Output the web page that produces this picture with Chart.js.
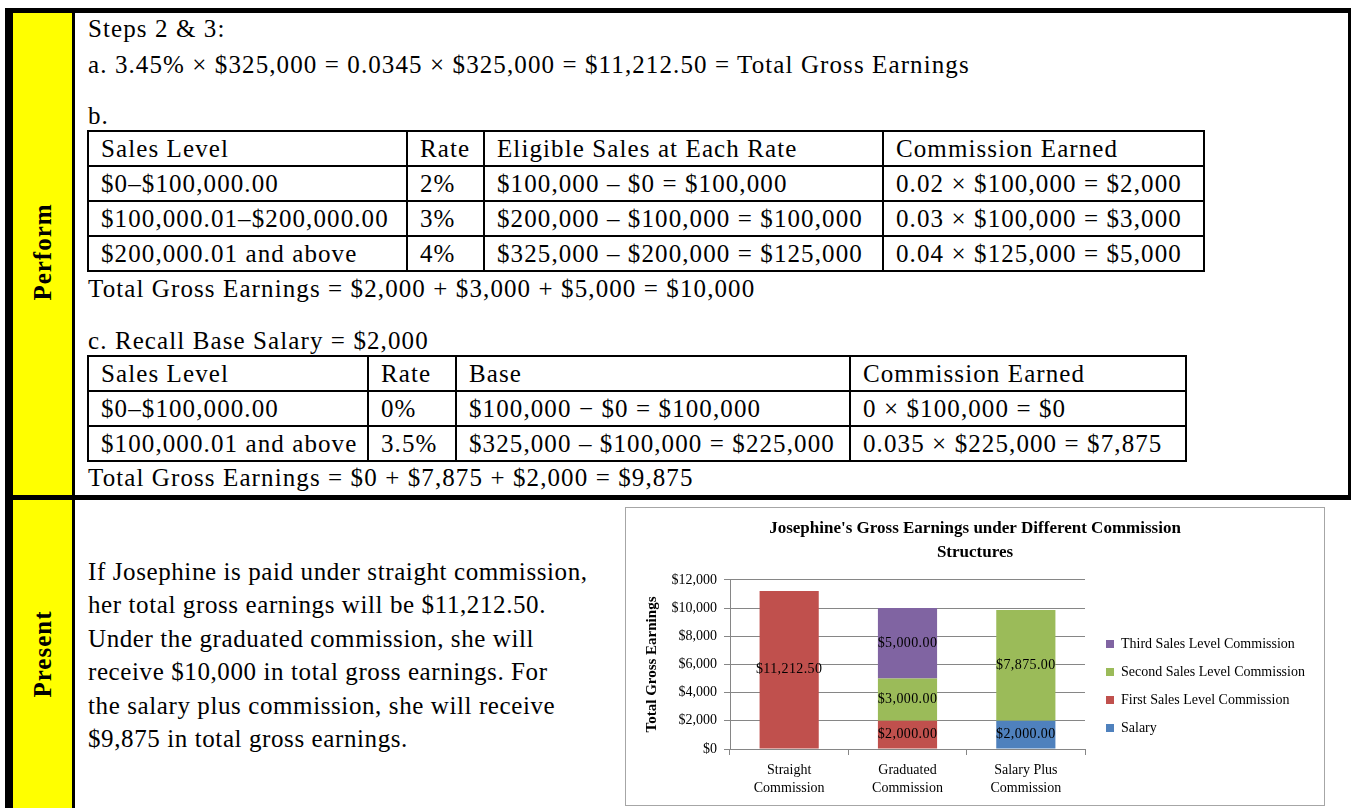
<!DOCTYPE html>
<html>
<head>
<meta charset="utf-8">
<script src="https://cdn.jsdelivr.net/npm/chart.js@4.4.1/dist/chart.umd.min.js"></script>
<style>
html,body{margin:0;padding:0;background:#fff;}
body{width:1351px;height:808px;overflow:hidden;position:relative;font-family:"Liberation Serif","Times New Roman",serif;color:#000;}
.blk{position:absolute;background:#000;}
.yel{position:absolute;background:#ffff00;}
.t{position:absolute;font-size:25px;letter-spacing:1.1px;line-height:30px;white-space:nowrap;}
.side{position:absolute;width:200px;height:30px;line-height:30px;text-align:center;font-weight:bold;font-size:25px;letter-spacing:1px;transform:rotate(-90deg);white-space:nowrap;}
table.g{position:absolute;border-collapse:collapse;table-layout:fixed;font-size:25px;letter-spacing:1.1px;}
table.g td{border:2px solid #000;padding:0 0 0 12px;white-space:nowrap;vertical-align:middle;line-height:28px;overflow:hidden;}
table.g tr{height:35px;}
.para{position:absolute;left:88px;top:555px;font-size:25px;letter-spacing:0.6px;line-height:33.4px;white-space:nowrap;}
#chartBox{position:absolute;left:625px;top:507px;width:700px;height:299px;box-sizing:border-box;border:1px solid #a6a6a6;background:#fff;}
#chartBox canvas{display:block;}
</style>
</head>
<body>
<!-- frame -->
<div class="blk" style="left:5px;top:8px;width:1346px;height:5px;"></div>
<div class="blk" style="left:5px;top:8px;width:8px;height:800px;"></div>
<div class="yel" style="left:13px;top:13px;width:59px;height:482px;"></div>
<div class="yel" style="left:13px;top:500px;width:59px;height:308px;"></div>
<div class="blk" style="left:72px;top:13px;width:3px;height:795px;"></div>
<div class="blk" style="left:5px;top:495px;width:1346px;height:5px;"></div>
<div class="blk" style="left:1348px;top:8px;width:3px;height:492px;"></div>

<div class="side" style="left:-57px;top:237px;">Perform</div>
<div class="side" style="left:-57px;top:639px;">Present</div>

<div class="t" style="left:88px;top:14px;">Steps 2 &amp; 3:</div>
<div class="t" style="left:88px;top:50px;">a. 3.45% × $325,000 = 0.0345 × $325,000 = $11,212.50 = Total Gross Earnings</div>
<div class="t" style="left:88px;top:101px;">b.</div>

<table class="g" style="left:87px;top:130px;">
<colgroup><col style="width:319px"><col style="width:77px"><col style="width:399px"><col style="width:321px"></colgroup>
<tr><td>Sales Level</td><td>Rate</td><td>Eligible Sales at Each Rate</td><td>Commission Earned</td></tr>
<tr><td>$0–$100,000.00</td><td>2%</td><td>$100,000 – $0 = $100,000</td><td>0.02 × $100,000 = $2,000</td></tr>
<tr><td>$100,000.01–$200,000.00</td><td>3%</td><td>$200,000 – $100,000 = $100,000</td><td>0.03 × $100,000 = $3,000</td></tr>
<tr><td>$200,000.01 and above</td><td>4%</td><td>$325,000 – $200,000 = $125,000</td><td>0.04 × $125,000 = $5,000</td></tr>
</table>

<div class="t" style="left:88px;top:274px;">Total Gross Earnings = $2,000 + $3,000 + $5,000 = $10,000</div>
<div class="t" style="left:88px;top:326px;">c. Recall Base Salary = $2,000</div>

<table class="g" style="left:87px;top:355px;">
<colgroup><col style="width:280px"><col style="width:88px"><col style="width:394px"><col style="width:336px"></colgroup>
<tr><td>Sales Level</td><td>Rate</td><td>Base</td><td>Commission Earned</td></tr>
<tr><td>$0–$100,000.00</td><td>0%</td><td>$100,000 − $0 = $100,000</td><td>0 × $100,000 = $0</td></tr>
<tr><td>$100,000.01 and above</td><td>3.5%</td><td>$325,000 – $100,000 = $225,000</td><td>0.035 × $225,000 = $7,875</td></tr>
</table>

<div class="t" style="left:88px;top:463px;">Total Gross Earnings = $0 + $7,875 + $2,000 = $9,875</div>

<div class="para">If Josephine is paid under straight commission,<br>her total gross earnings will be $11,212.50.<br>Under the graduated commission, she will<br>receive $10,000 in total gross earnings. For<br>the salary plus commission, she will receive<br>$9,875 in total gross earnings.</div>

<div id="chartBox"><canvas id="c" width="698" height="297"></canvas></div>

<script>
// ---- chart data ----
const categories = [['Straight', 'Commission'], ['Graduated', 'Commission'], ['Salary Plus', 'Commission']];
const salary      = [null, null, 2000];
const firstLevel  = [11212.5, 2000, null];
const secondLevel = [null, 3000, 7875];
const thirdLevel  = [null, 5000, null];
const yMin = 0, yMax = 12000, yStep = 2000;
const chartTitle = ["Josephine's Gross Earnings under Different Commission", 'Structures'];
const yTitle = 'Total Gross Earnings';

const FONT = '"Liberation Serif", "Times New Roman", serif';
Chart.defaults.font.family = FONT;
Chart.defaults.color = '#000';

const money = v => '$' + Number(v).toLocaleString('en-US');
const money2 = v => '$' + Number(v).toLocaleString('en-US', {minimumFractionDigits: 2, maximumFractionDigits: 2});

const valueLabels = {
  id: 'valueLabels',
  afterDatasetsDraw(chart) {
    const ctx = chart.ctx;
    ctx.save();
    ctx.font = '14px ' + FONT;
    if ('letterSpacing' in ctx) ctx.letterSpacing = '0.4px';
    ctx.fillStyle = '#000';
    ctx.textAlign = 'center';
    ctx.textBaseline = 'middle';
    chart.data.datasets.forEach((ds, i) => {
      const meta = chart.getDatasetMeta(i);
      if (meta.hidden) return;
      meta.data.forEach((el, j) => {
        const v = ds.data[j];
        if (v == null || v === 0) return;
        const p = el.getProps(['x', 'y', 'base'], true);
        ctx.fillText(money2(v), p.x, (p.y + p.base) / 2);
      });
    });
    ctx.restore();
  }
};

const legendPlace = {
  id: 'legendPlace',
  afterInit(chart) {
    const lg = chart.legend;
    if (!lg) return;
    const f = lg.fit.bind(lg);
    lg.fit = function () { f(); this.width = 239; };
  },
  afterLayout(chart) {
    const lg = chart.legend;
    if (lg) { lg.left += 7; lg.right += 7; }
  }
};

new Chart(document.getElementById('c'), {
  type: 'bar',
  data: {
    labels: categories,
    datasets: [
      {label: 'Salary', data: salary, backgroundColor: '#4F81BD'},
      {label: 'First Sales Level Commission', data: firstLevel, backgroundColor: '#C0504D'},
      {label: 'Second Sales Level Commission', data: secondLevel, backgroundColor: '#9BBB59'},
      {label: 'Third Sales Level Commission', data: thirdLevel, backgroundColor: '#8064A2'}
    ]
  },
  options: {
    responsive: false,
    animation: false,
    devicePixelRatio: 1,
    layout: {padding: 0},
    datasets: {bar: {barPercentage: 1.0, categoryPercentage: 0.5, borderWidth: 0}},
    plugins: {
      title: {
        display: true,
        text: chartTitle,
        color: '#000',
        font: {size: 17, weight: 'bold', lineHeight: 1.41},
        padding: {top: 9, bottom: 15}
      },
      legend: {
        position: 'right',
        align: 'end',
        fullSize: false,
        reverse: true,
        labels: {boxWidth: 8, boxHeight: 8, padding: 14, color: '#000', font: {size: 14}}
      },
      tooltip: {enabled: false}
    },
    scales: {
      x: {
        stacked: true,
        grid: {display: true, offset: true, drawOnChartArea: false, drawTicks: true, tickLength: 6, color: '#868686'},
        border: {display: true, color: '#868686'},
        ticks: {padding: 6, color: '#000', font: {size: 14, lineHeight: 1.3}, maxRotation: 0, autoSkip: false},
        afterFit(scale) { scale.height = 56; }
      },
      y: {
        stacked: true,
        min: yMin,
        max: yMax,
        grid: {color: '#868686', tickLength: 6, drawTicks: true},
        border: {display: true, color: '#868686'},
        ticks: {stepSize: yStep, padding: 7, color: '#000', font: {size: 14}, callback: v => money(v)},
        title: {display: true, text: yTitle, color: '#000', font: {size: 15, weight: 'bold', lineHeight: 1.2}, padding: {top: 17, bottom: 0}},
        afterFit(scale) { scale.width = 104; }
      }
    }
  },
  plugins: [valueLabels, legendPlace]
});
</script>
</body>
</html>
